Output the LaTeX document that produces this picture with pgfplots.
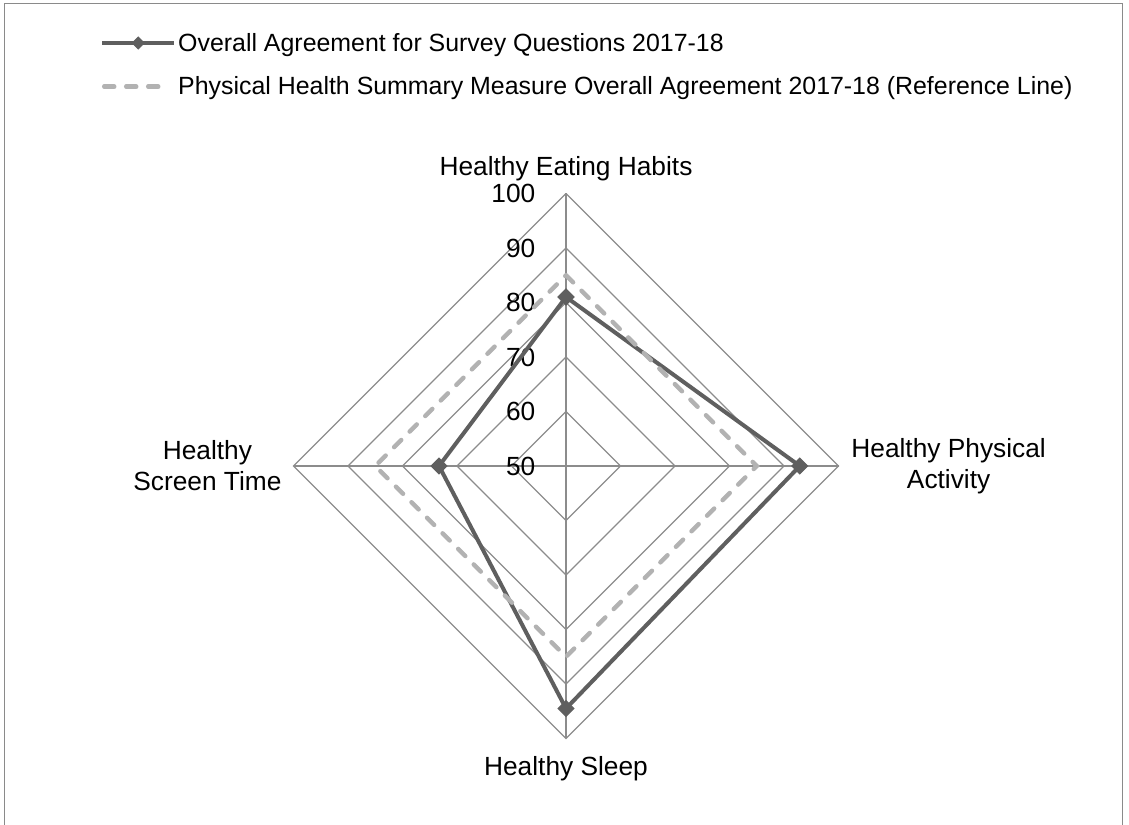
\documentclass[border=0pt]{standalone}
\usepackage{fontspec}
\setmainfont{Liberation Sans}
\usepackage{pgfplots}
\pgfplotsset{compat=1.18}
\usepackage{pgfplotstable}
\definecolor{serA}{HTML}{5F5F5F}
\definecolor{serB}{HTML}{B2B2B2}
\definecolor{gridc}{HTML}{8C8C8C}
\definecolor{framec}{HTML}{8A8A8A}
\pgfplotsset{
  legA/.style={legend image code/.code={\draw[mark repeat=2, mark phase=2, ##1, mark size=4.2bp] plot coordinates {(0bp,0bp) (36bp,0bp) (72bp,0bp)};}},
  legB/.style={legend image code/.code={\draw[##1] (2bp,0bp) -- (62bp,0bp);}},
}

% angle (deg), value
\pgfplotstableread{
ang v
90  81.0
0   92.9
270 94.5
180 73.3
90  81.0
}\overall
\pgfplotstableread{
ang v
90  85
0   85
270 85
180 85
90  85
}\refline

\begin{document}
\begin{tikzpicture}[x=1bp,y=1bp]
\useasboundingbox (0,0) rectangle (1129,825);
\begin{scope}
\clip (0,0) rectangle (1129,825);
\draw[framec, line width=1.5bp] (4.5,-20) -- (4.5,821.5) -- (1122.5,821.5) -- (1122.5,-20);
\end{scope}
\begin{axis}[
  anchor=origin, at={(566bp,359bp)},
  x=5.45bp, y=5.45bp,
  xmin=-50, xmax=50, ymin=-50, ymax=50,
  hide axis, clip=false,
  font=\fontsize{26.4}{31}\selectfont,
  legend style={draw=none, fill=none, at={(-0.355,1.298)}, anchor=north west,
    font=\fontsize{25}{30}\selectfont, inner sep=0pt, row sep=20bp,
    cells={anchor=west}},
  legend cell align=left,
]
% grid rings
\addplot[gridc, line width=1.2bp, forget plot] coordinates {(0,10) (10,0) (0,-10) (-10,0) (0,10)};
\addplot[gridc, line width=1.2bp, forget plot] coordinates {(0,20) (20,0) (0,-20) (-20,0) (0,20)};
\addplot[gridc, line width=1.2bp, forget plot] coordinates {(0,30) (30,0) (0,-30) (-30,0) (0,30)};
\addplot[gridc, line width=1.2bp, forget plot] coordinates {(0,40) (40,0) (0,-40) (-40,0) (0,40)};
\addplot[gridc, line width=1.2bp, forget plot] coordinates {(0,50) (50,0) (0,-50) (-50,0) (0,50)};
\addplot[gridc, line width=1.2bp, forget plot] coordinates {(0,-50) (0,50)};
\addplot[gridc, line width=1.2bp, forget plot] coordinates {(-50,0) (50,0)};
% tick labels
\node[anchor=east, inner sep=0pt] at (axis cs:-5.6,0) {50};
\node[anchor=east, inner sep=0pt] at (axis cs:-5.6,10) {60};
\node[anchor=east, inner sep=0pt] at (axis cs:-5.6,20) {70};
\node[anchor=east, inner sep=0pt] at (axis cs:-5.6,30) {80};
\node[anchor=east, inner sep=0pt] at (axis cs:-5.6,40) {90};
\node[anchor=east, inner sep=0pt] at (axis cs:-5.6,50) {100};
% category labels
\node[anchor=base, inner sep=0pt] at (axis cs:0,53.3) {Healthy Eating Habits};
\node[align=center, inner sep=0pt] at (axis cs:70.2,0) {Healthy Physical\\Activity};
\node[align=center, inner sep=0pt] at (axis cs:-65.8,0) {Healthy\\Screen Time};
\node[anchor=base, inner sep=0pt] at (axis cs:0,-56.8) {Healthy Sleep};
% data
\addplot[serA, line width=4bp, mark=square*, mark size=5.6bp, mark options={solid, fill=serA, rotate=45, line width=1bp}, legA]
  table[x expr={(\thisrow{v}-50)*cos(\thisrow{ang})}, y expr={(\thisrow{v}-50)*sin(\thisrow{ang})}] {\overall};
\addlegendentry{Overall Agreement for Survey Questions 2017-18}
\addplot[serB, line width=4.5bp, line cap=round, dash pattern=on 10bp off 12bp, legB]
  table[x expr={(\thisrow{v}-50)*cos(\thisrow{ang})}, y expr={(\thisrow{v}-50)*sin(\thisrow{ang})}] {\refline};
\addlegendentry{Physical Health Summary Measure Overall Agreement 2017-18 (Reference Line)}
\end{axis}
\end{tikzpicture}
\end{document}
